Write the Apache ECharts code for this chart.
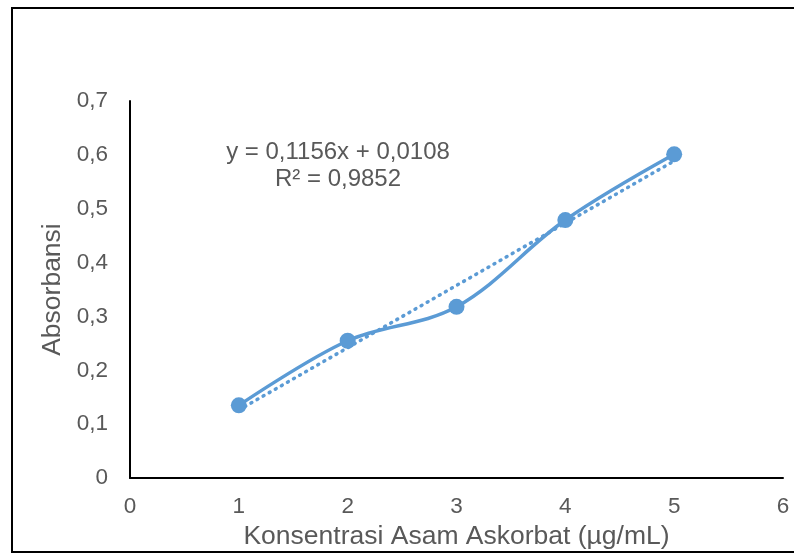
<!DOCTYPE html>
<html>
<head>
<meta charset="utf-8">
<script src="https://cdn.jsdelivr.net/npm/echarts@6/dist/echarts.min.js"></script>
<style>
html,body{margin:0;padding:0;background:#fff;}
#chart{width:794px;height:555px;}
</style>
</head>
<body>
<div id="chart"></div>
<script>
var concentrations = [1, 2, 3, 4, 5];
var absorbances = [0.135, 0.255, 0.318, 0.479, 0.601];
var xTicks = [0, 6, 1];
var yTicks = [0, 0.7, 0.1];
var equationLines = ['y = 0,1156x + 0,0108', 'R² = 0,9852'];
var xTitle = 'Konsentrasi Asam Askorbat (µg/mL)';
var yTitle = 'Absorbansi';

// least squares trendline from the data
var n = concentrations.length, sx = 0, sy = 0, sxx = 0, sxy = 0;
for (var i = 0; i < n; i++) {
  sx += concentrations[i]; sy += absorbances[i];
  sxx += concentrations[i] * concentrations[i];
  sxy += concentrations[i] * absorbances[i];
}
var slope = (n * sxy - sx * sy) / (n * sxx - sx * sx);
var intercept = (sy - slope * sx) / n;
var xFirst = concentrations[0], xLast = concentrations[n - 1];
var trend = [[xFirst, slope * xFirst + intercept], [xLast, slope * xLast + intercept]];
var points = concentrations.map(function (x, i) { return [x, absorbances[i]]; });

var blue = '#5B9BD5';
var grey = '#595959';
var font = 'Liberation Sans, Arial, sans-serif';

var chart = echarts.init(document.getElementById('chart'));
chart.setOption({
  animation: false,
  backgroundColor: '#fff',
  grid: { left: 130, right: 11, top: 101, bottom: 76, containLabel: false },
  xAxis: {
    type: 'value', min: xTicks[0], max: xTicks[1], interval: xTicks[2],
    name: xTitle, nameLocation: 'middle', nameGap: 41,
    nameTextStyle: { color: grey, fontSize: 26.5, fontFamily: font },
    axisLine: { show: true, onZero: false, lineStyle: { color: '#000', width: 2 } },
    axisTick: { show: false },
    splitLine: { show: false },
    axisLabel: { color: grey, fontSize: 22.5, fontFamily: font, margin: 17 }
  },
  yAxis: {
    type: 'value', min: yTicks[0], max: yTicks[1], interval: yTicks[2],
    name: yTitle, nameLocation: 'middle', nameGap: 62, nameRotate: 90,
    nameTextStyle: { color: grey, fontSize: 26.5, fontFamily: font },
    axisLine: { show: true, lineStyle: { color: '#000', width: 2 } },
    axisTick: { show: false },
    splitLine: { show: false },
    axisLabel: {
      color: grey, fontSize: 22.5, fontFamily: font, margin: 22,
      formatter: function (v) { return String(Math.round(v * 10) / 10).replace('.', ','); }
    }
  },
  series: [
    {
      type: 'line', data: trend, symbol: 'none', silent: true,
      lineStyle: { color: blue, width: 3.5, type: [1, 6], cap: 'round' },
      z: 1
    },
    {
      type: 'line', data: points, smooth: 0.35,
      symbol: 'circle', symbolSize: 16,
      itemStyle: { color: blue },
      lineStyle: { color: blue, width: 3.5 },
      z: 2
    }
  ],
  graphic: [
    {
      type: 'rect', shape: { x: 12, y: 8, width: 800, height: 544 },
      style: { fill: 'none', stroke: '#000', lineWidth: 2 }, silent: true, z: -1
    },
    {
      type: 'text', x: 338, y: 139,
      style: {
        text: equationLines.join('\n'),
        fill: grey, fontSize: 24, fontFamily: font, lineHeight: 27,
        align: 'center', verticalAlign: 'top'
      }
    }
  ]
});
</script>
</body>
</html>
